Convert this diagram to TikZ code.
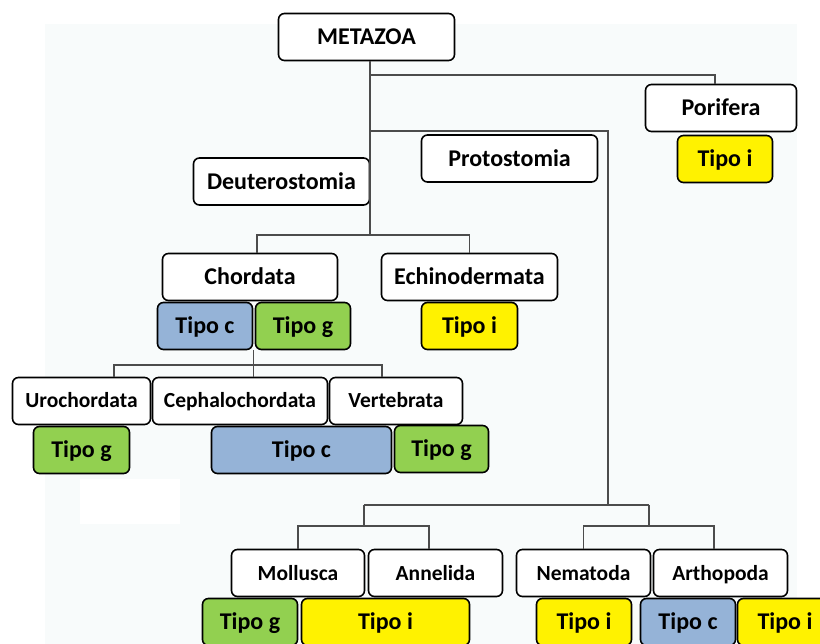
\documentclass[tikz,border=0pt]{standalone}
\usepackage{fontspec}
\setmainfont{Carlito}
\definecolor{tipoblue}{RGB}{149,179,215}
\definecolor{tipogreen}{RGB}{146,208,80}
\definecolor{bgtint}{RGB}{248,251,251}

\begin{document}
\begin{tikzpicture}[
  x=1pt, y=-1pt,
  every node/.style={rounded corners=6pt, font=\fontsize{24}{25}\selectfont\bfseries, align=center,
                     draw, line width=1.6pt, minimum height=47pt, inner sep=2pt, fill=white,
                     text height=15.5pt, text depth=0pt},
  small/.style={font=\fontsize{21.5}{23}\selectfont\bfseries, text height=14pt},
  tipoc/.style={fill=tipoblue},
  tipog/.style={fill=tipogreen},
  tipoi/.style={fill=yellow},
  link/.style={draw=black!70, line width=1.4pt}
]
  \clip (0,0) rectangle (820,644);
  \fill[bgtint] (45,24) rectangle (797,644);
  \fill[white] (80,479) rectangle (180,524);

  \node[minimum width=176pt] (metazoa) at (366.5,37) {METAZOA};
  \node[minimum width=151pt] (porifera) at (721,108) {Porifera};
  \node[tipoi, minimum width=95pt] (poriferaI) at (725,159) {Tipo i};
  \node[minimum width=176pt] (proto) at (509.5,158.5) {Protostomia};
  \node[minimum width=176pt] (deutero) at (281.5,181.5) {Deuterostomia};
  \node[minimum width=175pt] (chordata) at (250,277) {Chordata};
  \node[minimum width=176pt] (echino) at (469.5,277) {Echinodermata};
  \node[tipoc, minimum width=95pt] (chordC) at (205,326) {Tipo c};
  \node[tipog, minimum width=95pt] (chordG) at (303,326) {Tipo g};
  \node[tipoi, minimum width=96pt] (echinoI) at (469.5,326) {Tipo i};
  \node[small, minimum width=138pt] (uro) at (81.5,401) {Urochordata};
  \node[small, minimum width=175pt] (cephalo) at (240,401) {Cephalochordata};
  \node[small, minimum width=133pt] (verte) at (396,401) {Vertebrata};
  \node[tipog, minimum width=96pt] (uroG) at (81.5,450) {Tipo g};
  \node[tipoc, minimum width=180pt] (cephaloC) at (301.5,450) {Tipo c};
  \node[tipog, minimum width=94pt] (verteG) at (441.5,449) {Tipo g};
  \node[small, minimum width=133pt] (mollusca) at (298,573) {Mollusca};
  \node[small, minimum width=134pt] (annelida) at (435.5,573) {Annelida};
  \node[small, minimum width=134pt] (nematoda) at (583.5,573) {Nematoda};
  \node[small, minimum width=134pt] (artho) at (720.5,573) {Arthopoda};
  \node[tipog, minimum width=95pt] (mollG) at (250,622) {Tipo g};
  \node[tipoi, minimum width=168pt] (annelI) at (385.5,622) {Tipo i};
  \node[tipoi, minimum width=95pt] (nemaI) at (584,622) {Tipo i};
  \node[tipoc, minimum width=95pt] (arthoC) at (688,622) {Tipo c};
  \node[tipoi, minimum width=95pt] (arthoI) at (785,622) {Tipo i};

  \coordinate (trunk) at (370,235);
  \coordinate (jpor) at (370,75);
  \coordinate (jpro) at (370,131);
  \coordinate (jp) at (608,505);
  \coordinate (jml) at (364,505);
  \coordinate (jna) at (649,505);
  \coordinate (jml2) at (364,526);
  \coordinate (jna2) at (649,526);
  \coordinate (jch) at (253,365);
  \draw[link] (metazoa.south -| trunk) -- (trunk);
  \draw[link] (jpor) -| ([xshift=-6pt]porifera.north);
  \draw[link] (jpro) -| (jp);
  \draw[link] (jml) -- (jna);
  \draw[link] (jml) -- (jml2);
  \draw[link] (jna) -- (jna2);
  \draw[link] (mollusca.north) |- (jml2) -| ([xshift=-6.5pt]annelida.north);
  \draw[link] (nematoda.north) |- (jna2) -| ([xshift=-6.5pt]artho.north);
  \draw[link] ([xshift=7pt]chordata.north) |- (trunk) -| (echino.north);
  \draw[link] (chordC.south east) -- (cephalo.north -| chordC.south east);
  \draw[link] ([xshift=32.5pt]uro.north) |- (jch) -| ([xshift=-14pt]verte.north);
\end{tikzpicture}
\end{document}
